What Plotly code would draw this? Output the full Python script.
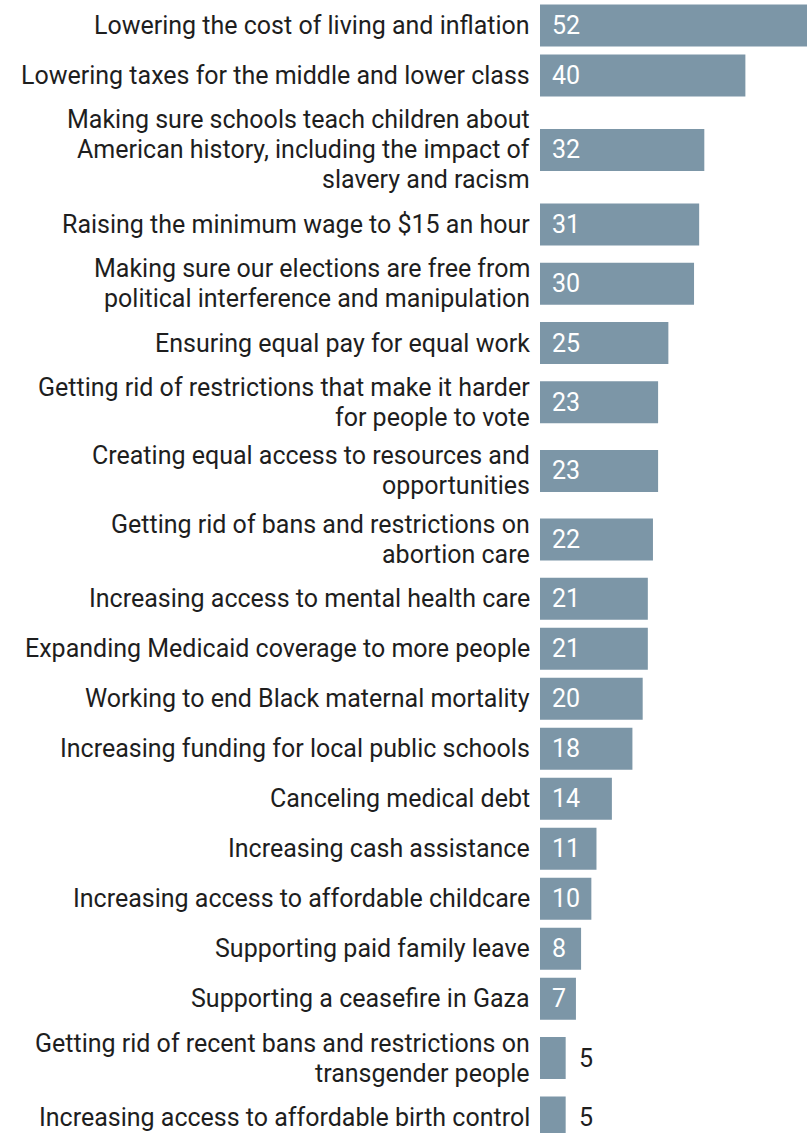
import plotly.graph_objects as go

# Share of respondents naming each issue as a top priority (%)
issues = [
    "Lowering the cost of living and inflation",
    "Lowering taxes for the middle and lower class",
    "Making sure schools teach children about<br>American history, including the impact of<br>slavery and racism",
    "Raising the minimum wage to $15 an hour",
    "Making sure our elections are free from<br>political interference and manipulation",
    "Ensuring equal pay for equal work",
    "Getting rid of restrictions that make it harder<br>for people to vote",
    "Creating equal access to resources and<br>opportunities",
    "Getting rid of bans and restrictions on<br>abortion care",
    "Increasing access to mental health care",
    "Expanding Medicaid coverage to more people",
    "Working to end Black maternal mortality",
    "Increasing funding for local public schools",
    "Canceling medical debt",
    "Increasing cash assistance",
    "Increasing access to affordable childcare",
    "Supporting paid family leave",
    "Supporting a ceasefire in Gaza",
    "Getting rid of recent bans and restrictions on<br>transgender people",
    "Increasing access to affordable birth control",
]
values = [52, 40, 32, 31, 30, 25, 23, 23, 22, 21, 21, 20, 18, 14, 11, 10, 8, 7, 5, 5]

BAR_COLOR = "#7c96a7"
TEXT_COLOR = "#1e1e1e"
FONT = "Roboto"
FONT_SIZE = 25

W, H = 809, 1133
LEFT = 540
X_MAX = max(values)

# Row height grows with the number of label lines (y axis is in pixels)
LINE_H, MIN_H, PAD, BAR_H = 30.3, 42, 8, 42
TEXT_LINE = 30
rows = [s.split("<br>") for s in issues]
heights = [max(MIN_H, LINE_H * len(r)) + PAD for r in rows]
centers = []
top = 0.5
for h in heights:
    centers.append(top + h / 2)
    top += h

fig = go.Figure(
    go.Bar(
        x=values,
        y=centers,
        orientation="h",
        width=BAR_H,
        marker=dict(color=BAR_COLOR, line=dict(width=0)),
        hoverinfo="skip",
    )
)

px_per_unit = (W - LEFT - 2) / X_MAX
digit_w = 0.56 * FONT_SIZE
annotations = []
for lines, v, yc in zip(rows, values, centers):
    n = len(lines)
    for i, line in enumerate(lines):
        annotations.append(dict(
            x=0, y=yc + (i - (n - 1) / 2) * TEXT_LINE, xref="x", yref="y",
            text=line, xanchor="right", yanchor="middle", align="right",
            xshift=-9, showarrow=False, borderpad=0,
            font=dict(family=FONT, size=FONT_SIZE, color=TEXT_COLOR),
        ))
    txt = str(v)
    fits = v * px_per_unit >= 12 + digit_w * len(txt) + 6
    annotations.append(dict(
        x=0 if fits else v, y=yc, xref="x", yref="y", text=txt,
        xanchor="left", yanchor="middle",
        xshift=11 if fits else 12, showarrow=False, borderpad=0,
        font=dict(family=FONT, size=FONT_SIZE, color="white" if fits else TEXT_COLOR),
    ))

fig.update_layout(
    width=W, height=H,
    margin=dict(l=LEFT, r=2, t=0, b=0),
    paper_bgcolor="white", plot_bgcolor="white",
    showlegend=False,
    xaxis=dict(range=[0, X_MAX], visible=False, fixedrange=True),
    yaxis=dict(range=[H, 0], visible=False, fixedrange=True),
    annotations=annotations,
    font=dict(family=FONT),
)

fig.write_html("out.html")
